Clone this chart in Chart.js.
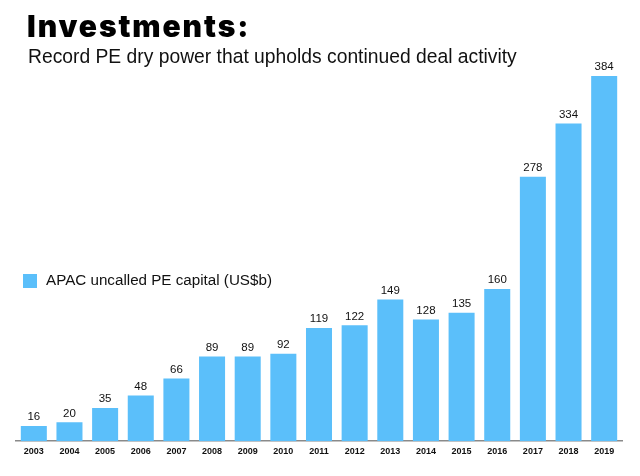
<!DOCTYPE html>
<html>
<head>
<meta charset="utf-8">
<script src="https://cdn.jsdelivr.net/npm/chart.js@4/dist/chart.umd.min.js"></script>
<style>
  body { margin: 0; background: #fff; }
  #wrap { position: relative; width: 640px; height: 476px; }
  #title { position: absolute; left: 27px; top: 8px; font: 900 30px 'Inter', 'Lato', sans-serif; color: #000; letter-spacing: 1.9px; line-height: 36px; }
  #subtitle { position: absolute; left: 28px; top: 46px; font: 19.3px 'Liberation Sans', Arial, sans-serif; color: #111; line-height: 22px; }
  canvas { position: absolute; left: 0; top: 0; }
</style>
</head>
<body>
<div id="wrap">
  <canvas id="chart" width="640" height="476"></canvas>
  <div id="title">Investments:</div>
  <div id="subtitle">Record PE dry power that upholds continued deal activity</div>
</div>
<script>
const years = ['2003', '2004', '2005', '2006', '2007', '2008', '2009', '2010', '2011',
               '2012', '2013', '2014', '2015', '2016', '2017', '2018', '2019'];
const uncalled = [16, 20, 35, 48, 66, 89, 89, 92, 119, 122, 149, 128, 135, 160, 278, 334, 384];
const seriesName = 'APAC uncalled PE capital (US$b)';
const barColor = '#5bbffa';

// value labels over each bar
const valueLabels = {
    id: 'valueLabels',
    afterDatasetsDraw(chart) {
        const ctx = chart.ctx;
        const meta = chart.getDatasetMeta(0);
        ctx.save();
        ctx.font = '11.5px "Liberation Sans", Arial, sans-serif';
        ctx.fillStyle = '#111';
        ctx.textAlign = 'center';
        ctx.textBaseline = 'bottom';
        meta.data.forEach((bar, i) => {
            ctx.fillText(chart.data.datasets[0].data[i], bar.x, bar.y - 3);
        });
        ctx.restore();
    }
};

// legend sits inside the plot on the left
const sideLegend = {
    id: 'sideLegend',
    afterDraw(chart) {
        const ctx = chart.ctx;
        const ds = chart.data.datasets[0];
        ctx.save();
        ctx.fillStyle = ds.backgroundColor;
        ctx.fillRect(23, 274, 14, 14);
        ctx.font = '15.2px "Liberation Sans", Arial, sans-serif';
        ctx.fillStyle = '#111';
        ctx.textBaseline = 'middle';
        ctx.fillText(ds.label, 46, 281);
        ctx.restore();
    }
};

new Chart(document.getElementById('chart'), {
    type: 'bar',
    data: {
        labels: years,
        datasets: [{
            label: seriesName,
            data: uncalled,
            backgroundColor: barColor,
            barPercentage: 0.73,
            categoryPercentage: 1.0
        }]
    },
    options: {
        responsive: false,
        animation: false,
        layout: { padding: { left: 16, right: 18, top: 76, bottom: 14 } },
        plugins: {
            legend: { display: false },
            tooltip: { enabled: false }
        },
        scales: {
            x: {
                grid: { display: false, drawTicks: false },
                border: { color: '#8a8a8a', width: 1.5 },
                ticks: {
                    color: '#111',
                    padding: 5,
                    maxRotation: 0,
                    font: { family: '"Liberation Sans", Arial, sans-serif', size: 9, weight: 'bold' }
                }
            },
            y: {
                display: false,
                min: 0,
                max: 384
            }
        }
    },
    plugins: [valueLabels, sideLegend]
});
</script>
</body>
</html>
